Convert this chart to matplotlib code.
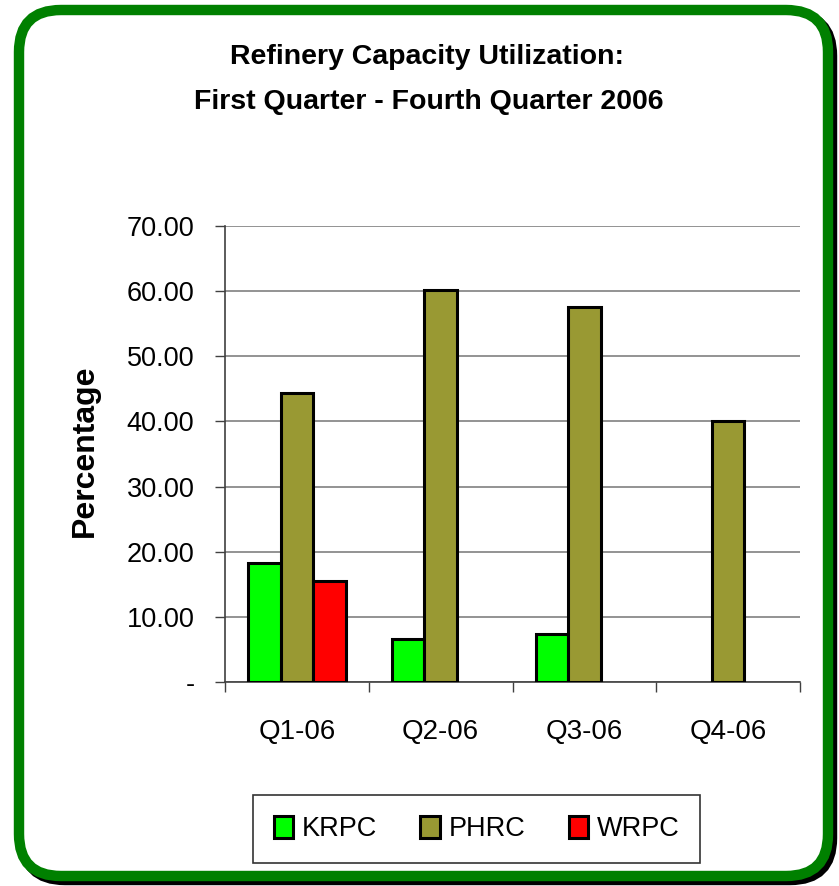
import matplotlib
matplotlib.use("Agg")
import matplotlib.pyplot as plt
import numpy as np
from matplotlib.patches import FancyBboxPatch

categories = ["Q1-06", "Q2-06", "Q3-06", "Q4-06"]
series_names = ["KRPC", "PHRC", "WRPC"]
krpc = [18.3, 6.6, 7.4, np.nan]
phrc = [44.4, 60.2, 57.6, 40.0]
wrpc = [15.5, np.nan, np.nan, np.nan]
yticks = [0, 10, 20, 30, 40, 50, 60, 70]
ytick_labels = ["-", "10.00", "20.00", "30.00", "40.00", "50.00", "60.00", "70.00"]
colors = ["#00FF00", "#999933", "#FF0000"]

plt.rcParams['font.family'] = ['Liberation Sans', 'DejaVu Sans']

W, H = 839, 886
fig = plt.figure(figsize=(W / 100, H / 100), dpi=100)
fig.patch.set_facecolor("white")

def fx(px): return px / W
def fy(py): return 1 - py / H

for off, col in [(4, "black"), (0, "#008000")]:
    x0, y0, x1, y1 = 19 + off, 10 + off, 828 + off, 876 + off
    p = FancyBboxPatch((fx(x0), fy(y1)), fx(x1) - fx(x0), fy(y0) - fy(y1),
                       boxstyle="round,pad=0,rounding_size=0.05",
                       transform=fig.transFigure,
                       facecolor="white" if col != "black" else "none",
                       edgecolor=col, linewidth=7.5, zorder=0 if col == "black" else 0.5,
                       mutation_aspect=W / H)
    fig.patches.append(p)

ax = fig.add_axes([fx(225), fy(682), fx(800) - fx(225), fy(226) - fy(682)])
ax.set_facecolor("none")
ax.set_zorder(2)

x = np.arange(len(categories))
bw = 0.226
data = [krpc, phrc, wrpc]
for i, (vals, c, name) in enumerate(zip(data, colors, series_names)):
    ax.bar(x + (i - 1) * bw, vals, width=bw, color=c, edgecolor="black",
           linewidth=2.2, label=name, zorder=3)

ax.set_xlim(-0.5, len(categories) - 0.5)
ax.set_ylim(0, 70)
ax.set_yticks(yticks)
ax.set_yticklabels(ytick_labels, fontsize=19.5)
ax.yaxis.grid(True, color="#808080", linewidth=1.2, zorder=0)
ax.set_axisbelow(True)
ax.set_xticks(x)
ax.set_xticklabels(categories, fontsize=20)
ax.set_xticks(np.arange(len(categories) + 1) - 0.5, minor=True)
ax.tick_params(axis="x", which="major", length=0, pad=27)
ax.tick_params(axis="x", which="minor", length=7, width=1, color="#404040", direction="out")
ax.tick_params(axis="y", length=7, width=1, color="#404040", pad=15)
for s in ["top", "right"]:
    ax.spines[s].set_visible(False)
for s in ["left", "bottom"]:
    ax.spines[s].set_color("#404040")
    ax.spines[s].set_linewidth(1.2)

fig.text(fx(85), fy(451), "Percentage", rotation=90, ha="center", va="center",
         fontsize=23, fontweight="bold")

fig.text(fx(427), fy(57), "Refinery Capacity Utilization:", ha="center", va="center",
         fontsize=20.5, fontweight="bold")
fig.text(fx(429), fy(102), "First Quarter - Fourth Quarter 2006", ha="center", va="center",
         fontsize=20.5, fontweight="bold")

leg = fig.legend(loc="center", bbox_to_anchor=(fx(476.5), fy(829)), ncol=3, fontsize=19.5,
                 frameon=True, fancybox=False, edgecolor="black", handlelength=0.72,
                 handleheight=0.9, handletextpad=0.32, columnspacing=1.6,
                 borderpad=0.75, borderaxespad=0)
leg.get_frame().set_linewidth(1.2)
for h in leg.legend_handles:
    h.set_linewidth(2.2)

fig.savefig("out.png", dpi=100)
